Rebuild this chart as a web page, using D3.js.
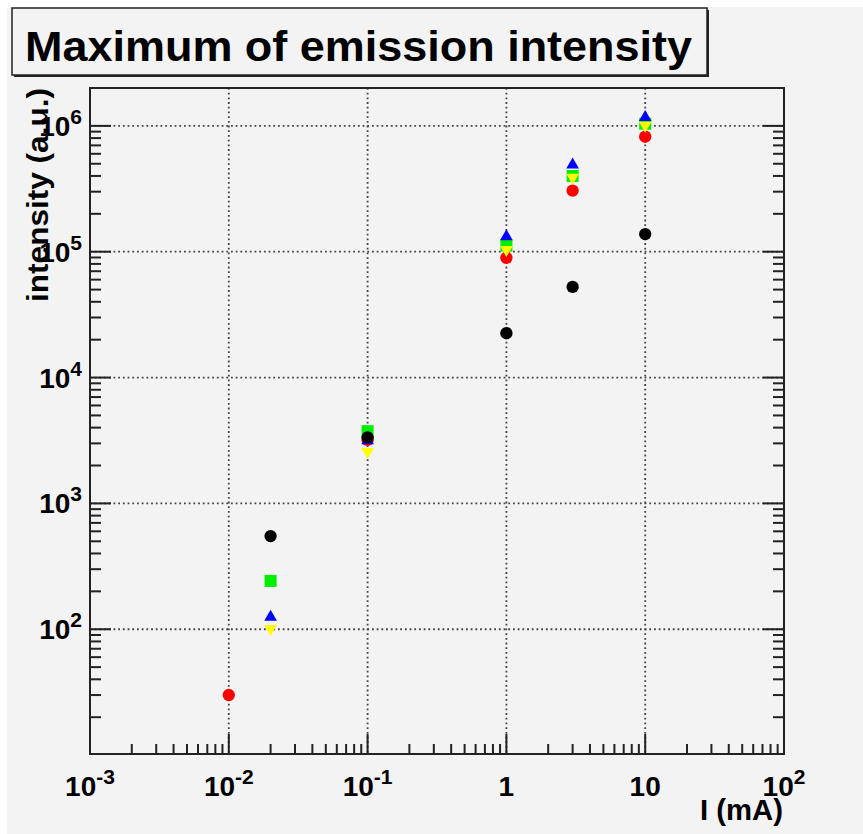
<!DOCTYPE html>
<html>
<head>
<meta charset="utf-8">
<script src="https://cdn.jsdelivr.net/npm/d3@7"></script>
<style>
  body { margin: 0; background: #ffffff; }
  text { font-family: "Liberation Sans", Arial, sans-serif; font-weight: bold; fill: #000; }
</style>
</head>
<body>
<div id="chart"></div>
<script>
// current values (mA) and maximum intensity for each series
var blackI = [0.02, 0.1, 1, 3, 10];
var blackV = [550, 3350, 22500, 52500, 138000];
var redI = [0.01, 0.1, 1, 3, 10];
var redV = [30, 3200, 89500, 306000, 820000];
var greenI = [0.02, 0.1, 1, 3, 10];
var greenV = [242, 3750, 112000, 400000, 1040000];
var blueI = [0.02, 0.1, 1, 3, 10];
var blueV = [125, 3150, 132000, 490000, 1170000];
var yellowI = [0.02, 0.1, 1, 3, 10];
var yellowV = [101, 2580, 104000, 390000, 1010000];

// tick labels: base and exponent ("" means no exponent)
var xTickVals = [1e-3, 1e-2, 1e-1, 1, 10, 100];
var xTickBase = ["10", "10", "10", "1", "10", "10"];
var xTickExp = ["-3", "-2", "-1", "", "", "2"];
var yTickVals = [1e2, 1e3, 1e4, 1e5, 1e6];
var yTickExp = ["2", "3", "4", "5", "6"];

var W = 863, H = 834;
var margin = { top: 88, right: 79, bottom: 80, left: 90 };
var pL = margin.left, pR = W - margin.right, pT = margin.top, pB = H - margin.bottom;

var x = d3.scaleLog().domain([1e-3, 1e2]).range([pL, pR]);
var y = d3.scaleLog().domain([10.2, 2e6]).range([pB, pT]);

var svg = d3.select("#chart").append("svg").attr("width", W).attr("height", H);

// canvas background
svg.append("rect").attr("x", 7).attr("y", 7).attr("width", W - 7).attr("height", H - 7).attr("fill", "#f3f3f3");

// minor tick values from the scales
function minors(scale) {
  var d = scale.domain();
  var out = [];
  var lo = Math.floor(Math.log10(d[0])), hi = Math.ceil(Math.log10(d[1]));
  for (var e = lo; e <= hi; e++) {
    for (var m = 2; m <= 9; m++) {
      var v = m * Math.pow(10, e);
      if (v > d[0] && v < d[1]) out.push(v);
    }
  }
  return out;
}

// dotted grid
var grid = svg.append("g").attr("stroke", "#444").attr("stroke-width", 1.8).attr("stroke-dasharray", "1.8,2.9");
grid.selectAll(".gx").data([1e-2, 1e-1, 1, 10]).enter().append("line")
  .attr("x1", function (d) { return x(d); }).attr("x2", function (d) { return x(d); })
  .attr("y1", pT).attr("y2", pB);
grid.selectAll(".gy").data(yTickVals).enter().append("line")
  .attr("y1", function (d) { return y(d); }).attr("y2", function (d) { return y(d); })
  .attr("x1", pL).attr("x2", pR);

// ticks (drawn inside the frame)
var ticks = svg.append("g").attr("stroke", "#222").attr("stroke-width", 2);
ticks.selectAll(".xmaj").data(xTickVals).enter().append("line")
  .attr("x1", function (d) { return x(d); }).attr("x2", function (d) { return x(d); })
  .attr("y1", pB).attr("y2", pB - 20);
ticks.selectAll(".xmin").data(minors(x)).enter().append("line")
  .attr("x1", function (d) { return x(d); }).attr("x2", function (d) { return x(d); })
  .attr("y1", pB).attr("y2", pB - 10);
ticks.selectAll(".ymaj").data(yTickVals).enter().append("line")
  .attr("y1", function (d) { return y(d); }).attr("y2", function (d) { return y(d); })
  .attr("x1", pL).attr("x2", pL + 21);
ticks.selectAll(".ymin").data(minors(y)).enter().append("line")
  .attr("y1", function (d) { return y(d); }).attr("y2", function (d) { return y(d); })
  .attr("x1", pL).attr("x2", pL + 11);
ticks.selectAll(".rmaj").data(yTickVals).enter().append("line")
  .attr("y1", function (d) { return y(d); }).attr("y2", function (d) { return y(d); })
  .attr("x1", pR).attr("x2", pR - 21);
ticks.selectAll(".rmin").data(minors(y)).enter().append("line")
  .attr("y1", function (d) { return y(d); }).attr("y2", function (d) { return y(d); })
  .attr("x1", pR).attr("x2", pR - 11);

// frame
svg.append("rect").attr("x", pL).attr("y", pT).attr("width", pR - pL).attr("height", pB - pT)
  .attr("fill", "none").attr("stroke", "#222").attr("stroke-width", 2);

// x tick labels
var xl = svg.append("g");
xTickVals.forEach(function (v, i) {
  var t = xl.append("text").attr("x", x(v)).attr("y", 796).attr("text-anchor", "middle").style("font-size", "28px");
  t.append("tspan").text(xTickBase[i]);
  if (xTickExp[i]) t.append("tspan").attr("dy", -12).style("font-size", "21px").text(xTickExp[i]);
});

// y tick labels
var yl = svg.append("g");
yTickVals.forEach(function (v, i) {
  var t = yl.append("text").attr("x", 82).attr("y", y(v) + 10).attr("text-anchor", "end").style("font-size", "28px");
  t.append("tspan").text("10");
  t.append("tspan").attr("dy", -12).style("font-size", "21px").text(yTickExp[i]);
});

// axis titles
svg.append("text").attr("x", 783).attr("y", 820).attr("text-anchor", "end").style("font-size", "29px")
  .attr("textLength", 83).attr("lengthAdjust", "spacingAndGlyphs").text("I (mA)");
svg.append("text").attr("transform", "translate(48," + pT + ") rotate(-90)").attr("text-anchor", "end")
  .style("font-size", "29px").attr("textLength", 214).attr("lengthAdjust", "spacingAndGlyphs").text("intensity (a.u.)");

// title box with shadow
svg.append("rect").attr("x", 14).attr("y", 10).attr("width", 695).attr("height", 67).attr("fill", "#222");
svg.append("rect").attr("x", 12).attr("y", 8).attr("width", 695).attr("height", 67).attr("fill", "#f3f3f3")
  .attr("stroke", "#222").attr("stroke-width", 1.5);
svg.append("text").attr("x", 25).attr("y", 61).style("font-size", "43px")
  .attr("textLength", 667).attr("lengthAdjust", "spacingAndGlyphs").text("Maximum of emission intensity");

// markers
var series = [
  { I: redI, V: redV, color: "#ff0000", shape: d3.symbolCircle, size: 120, rot: 0 },
  { I: greenI, V: greenV, color: "#00ee00", shape: d3.symbolSquare, size: 144, rot: 0 },
  { I: blueI, V: blueV, color: "#0000ff", shape: d3.symbolTriangle, size: 70, rot: 0 },
  { I: yellowI, V: yellowV, color: "#ffff00", shape: d3.symbolTriangle, size: 70, rot: 180 },
  { I: blackI, V: blackV, color: "#000000", shape: d3.symbolCircle, size: 120, rot: 0 }
];
series.forEach(function (s) {
  var sym = d3.symbol().type(s.shape).size(s.size);
  svg.append("g").selectAll("path").data(s.I).enter().append("path")
    .attr("d", sym)
    .attr("transform", function (d, i) { return "translate(" + x(d) + "," + y(s.V[i]) + ") rotate(" + s.rot + ")"; })
    .attr("fill", s.color);
});
</script>
</body>
</html>
